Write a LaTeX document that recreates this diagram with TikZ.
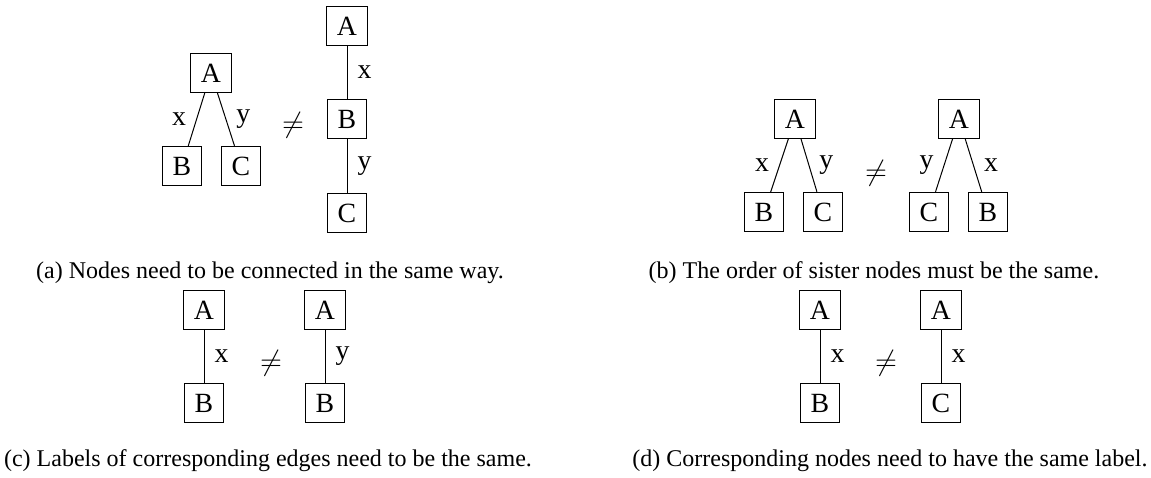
\documentclass[tikz,border=0pt]{standalone}
\usepackage{fontspec}
\setmainfont{Liberation Serif}
\tikzset{
  tnode/.style={draw, inner sep=5.2pt, font=\fontsize{13.9}{16}\selectfont},
  elbl/.style={inner sep=5pt, font=\fontsize{13.9}{16}\selectfont},
  neq/.style={font=\fontsize{13.9}{16}\selectfont},
  capt/.style={anchor=base, inner sep=0pt, font=\fontsize{12}{14}\selectfont},
}
\begin{document}
\begin{tikzpicture}[x=0.5pt, y=-0.5pt, line width=0.5pt]
\useasboundingbox (0,0) rectangle (1151,477);

% (a) connected in the same way
\node[tnode] (aA) at (211,73) {A};
\node[tnode] (aB) at (182,166) {B};
\node[tnode] (aC) at (241,166) {C};
\draw (aA) -- node[elbl, left] {x} (aB);
\draw (aA) -- node[elbl, right] {y} (aC);
\node[neq] (aneq) at (293,125) {$\neq$};
\node[tnode] (aA2) at (347,26) {A};
\node[tnode] (aB2) at (347,119) {B};
\node[tnode] (aC2) at (347,213) {C};
\draw (aA2) -- node[elbl, right] {x} (aB2);
\draw (aB2) -- node[elbl, right] {y} (aC2);
\node[capt] (acap) at (270,278) {(a) Nodes need to be connected in the same way.};

% (b) order of sister nodes
\node[tnode] (bA) at (795,119) {A};
\node[tnode] (bB) at (764,212) {B};
\node[tnode] (bC) at (823,212) {C};
\draw (bA) -- node[elbl, left] {x} (bB);
\draw (bA) -- node[elbl, right] {y} (bC);
\node[neq] (bneq) at (876,173) {$\neq$};
\node[tnode] (bA2) at (959,119) {A};
\node[tnode] (bC2) at (929,212) {C};
\node[tnode] (bB2) at (988,212) {B};
\draw (bA2) -- node[elbl, left] {y} (bC2);
\draw (bA2) -- node[elbl, right] {x} (bB2);
\node[capt] (bcap) at (874,278) {(b) The order of sister nodes must be the same.};

% (c) edge labels
\node[tnode] (cA) at (204,310) {A};
\node[tnode] (cB) at (204,403) {B};
\draw (cA) -- node[elbl, right] {x} (cB);
\node[neq] (cneq) at (271,363) {$\neq$};
\node[tnode] (cA2) at (325,310) {A};
\node[tnode] (cB2) at (325,403) {B};
\draw (cA2) -- node[elbl, right] {y} (cB2);
\node[capt] (ccap) at (268,466) {(c) Labels of corresponding edges need to be the same.};

% (d) node labels
\node[tnode] (dA) at (820,310) {A};
\node[tnode] (dB) at (820,403) {B};
\draw (dA) -- node[elbl, right] {x} (dB);
\node[neq] (dneq) at (886,363) {$\neq$};
\node[tnode] (dA2) at (941,310) {A};
\node[tnode] (dC2) at (941,403) {C};
\draw (dA2) -- node[elbl, right] {x} (dC2);
\node[capt] (dcap) at (890,466) {(d) Corresponding nodes need to have the same label.};
\end{tikzpicture}
\end{document}
